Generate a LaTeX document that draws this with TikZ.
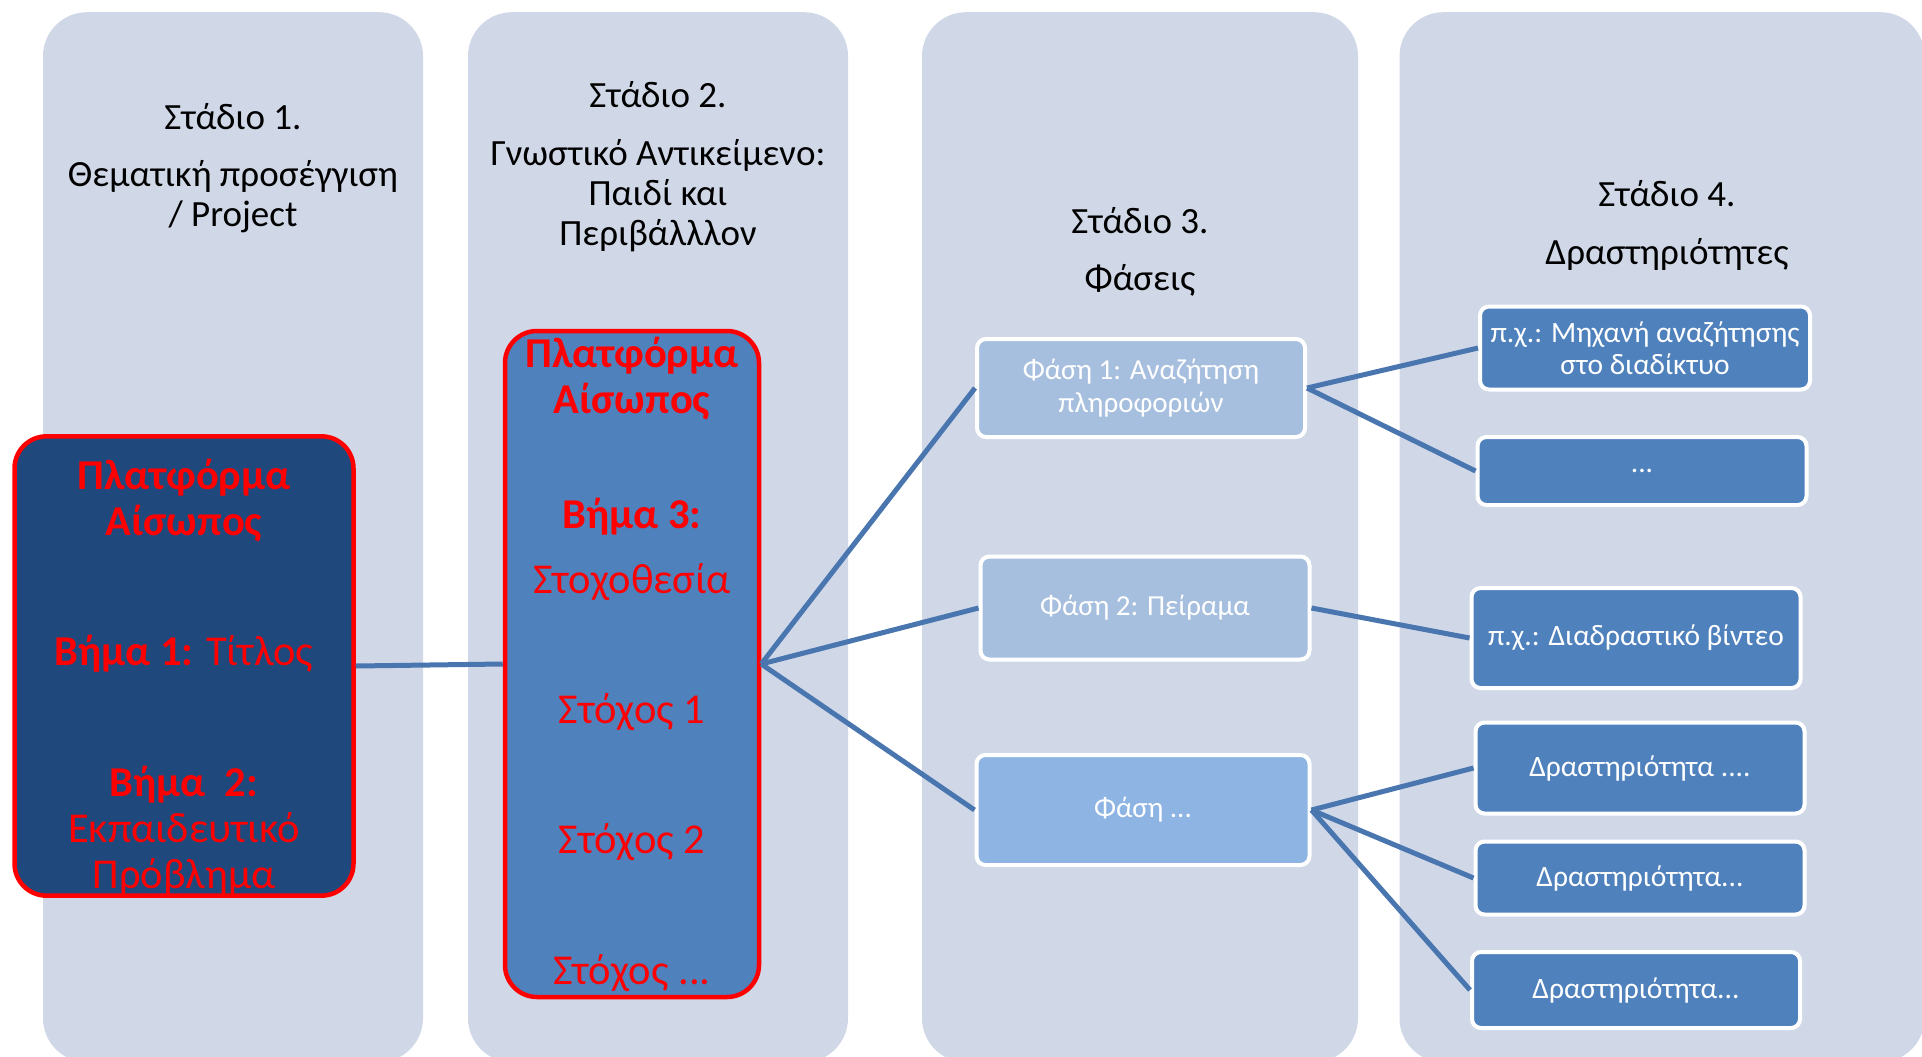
\documentclass[tikz,border=0pt]{standalone}
\usepackage{fontspec}
\setmainfont{Carlito}
\usetikzlibrary{positioning}
\definecolor{stage_bg}{HTML}{D0D8E8}
\definecolor{step_dark}{HTML}{1F497D}
\definecolor{step_mid}{HTML}{4F81BD}
\definecolor{phase_light}{HTML}{A7BFDE}
\definecolor{phase_sky}{HTML}{8EB4E3}
\definecolor{link_blue}{HTML}{4A76B0}
\definecolor{step_red}{HTML}{FF0000}

\begin{document}
\begin{tikzpicture}[
	x = 1pt, y = -1pt,
	stage/.style = {fill=stage_bg, rounded corners=44pt, anchor=north, minimum height=1050pt},
	title/.style = {align=center, font=\fontsize{37}{40}\selectfont},
	stepbox/.style = {draw=step_red, line width=4.5pt, rounded corners=32pt, align=center, text=step_red, inner ysep=0pt, font=\fontsize{42.5}{46}\selectfont},
	phase/.style = {draw=white, line width=4pt, rounded corners=9pt, align=center, text=white, font=\fontsize{29}{33}\selectfont},
	activity/.style = {phase, fill=step_mid, font=\fontsize{29.5}{32}\selectfont},
	link/.style = {draw=link_blue, line width=5pt},
]
\useasboundingbox (0,0) rectangle (1922,1057);
\clip (0,0) rectangle (1922,1057);

% Define stages
\node[stage, minimum width=380pt] (stage1) at (233,12) {};
\node[stage, minimum width=380pt] (stage2) at (658,12) {};
\node[stage, minimum width=436pt] (stage3) at (1140,12) {};
\node[stage, minimum width=525pt] (stage4) at (1662,12) {};

\node[title] (title1) at (233,168) {Στάδιο 1.\\[17pt] Θεματική προσέγγιση\\ / Project};
\node[title] (title2) at (658,167) {Στάδιο 2.\\[18pt] Γνωστικό Αντικείμενο:\\ Παιδί και\\ Περιβάλλλον};
\node[title] (title3) at (1140,252) {Στάδιο 3.\\[17pt] Φάσεις};
\node[title] (title4) at (1667,225) {Στάδιο 4.\\[18pt] Δραστηριότητες};

% Define steps
\node[stepbox, fill=step_dark, minimum width=339pt, minimum height=459pt] (step1) at (184,666)
	{\rule{0pt}{53pt}\textbf{Πλατφόρμα}\\ \textbf{Αίσωπος}\\[84pt] \textbf{Βήμα 1:} Τίτλος\\[85pt] \textbf{Βήμα\ \ 2:}\\ Εκπαιδευτικό\\ Πρόβλημα};
\node[stepbox, fill=step_mid, minimum width=254pt, minimum height=666pt] (step2) at (632,664)
	{\textbf{Πλατφόρμα}\\ \textbf{Αίσωπος}\\[69pt] \textbf{Βήμα 3:}\\[19pt] Στοχοθεσία\\[84pt] Στόχος 1\\[84pt] Στόχος 2\\[85pt] Στόχος ...};

% Define phases
\node[phase, fill=phase_light, minimum width=328pt, minimum height=98pt] (phase1) at (1141,388) {Φάση 1: Αναζήτηση\\ πληροφοριών};
\node[phase, fill=phase_light, minimum width=329pt, minimum height=103pt] (phase2) at (1145,608) {Φάση 2: Πείραμα};
\node[phase, fill=phase_sky, minimum width=333pt, minimum height=110pt] (phase3) at (1143,810) {Φάση ...};

% Define activities
\node[activity, minimum width=330pt, minimum height=83pt] (act1) at (1645,348) {π.χ.: Μηχανή αναζήτησης\\ στο διαδίκτυο};
\node[activity, minimum width=329pt, minimum height=68pt] (act2) at (1642,471) {...};
\node[activity, minimum width=329pt, minimum height=100pt] (act3) at (1636,638) {π.χ.: Διαδραστικό βίντεο};
\node[activity, minimum width=329pt, minimum height=91pt] (act4) at (1640,768) {Δραστηριότητα ....};
\node[activity, minimum width=329pt, minimum height=73pt] (act5) at (1640,878) {Δραστηριότητα...};
\node[activity, minimum width=328pt, minimum height=76pt] (act6) at (1636,990) {Δραστηριότητα...};

% Draw links
\path[link] (step1.east) edge (step2.west);
\path[link] (step2.east) edge (phase1.west);
\path[link] (step2.east) edge (phase2.west);
\path[link] (step2.east) edge (phase3.west);
\path[link] (phase1.east) edge (act1.west);
\path[link] (phase1.east) edge (act2.west);
\path[link] (phase2.east) edge (act3.west);
\path[link] (phase3.east) edge (act4.west);
\path[link] (phase3.east) edge (act5.west);
\path[link] (phase3.east) edge (act6.west);
\end{tikzpicture}
\end{document}
